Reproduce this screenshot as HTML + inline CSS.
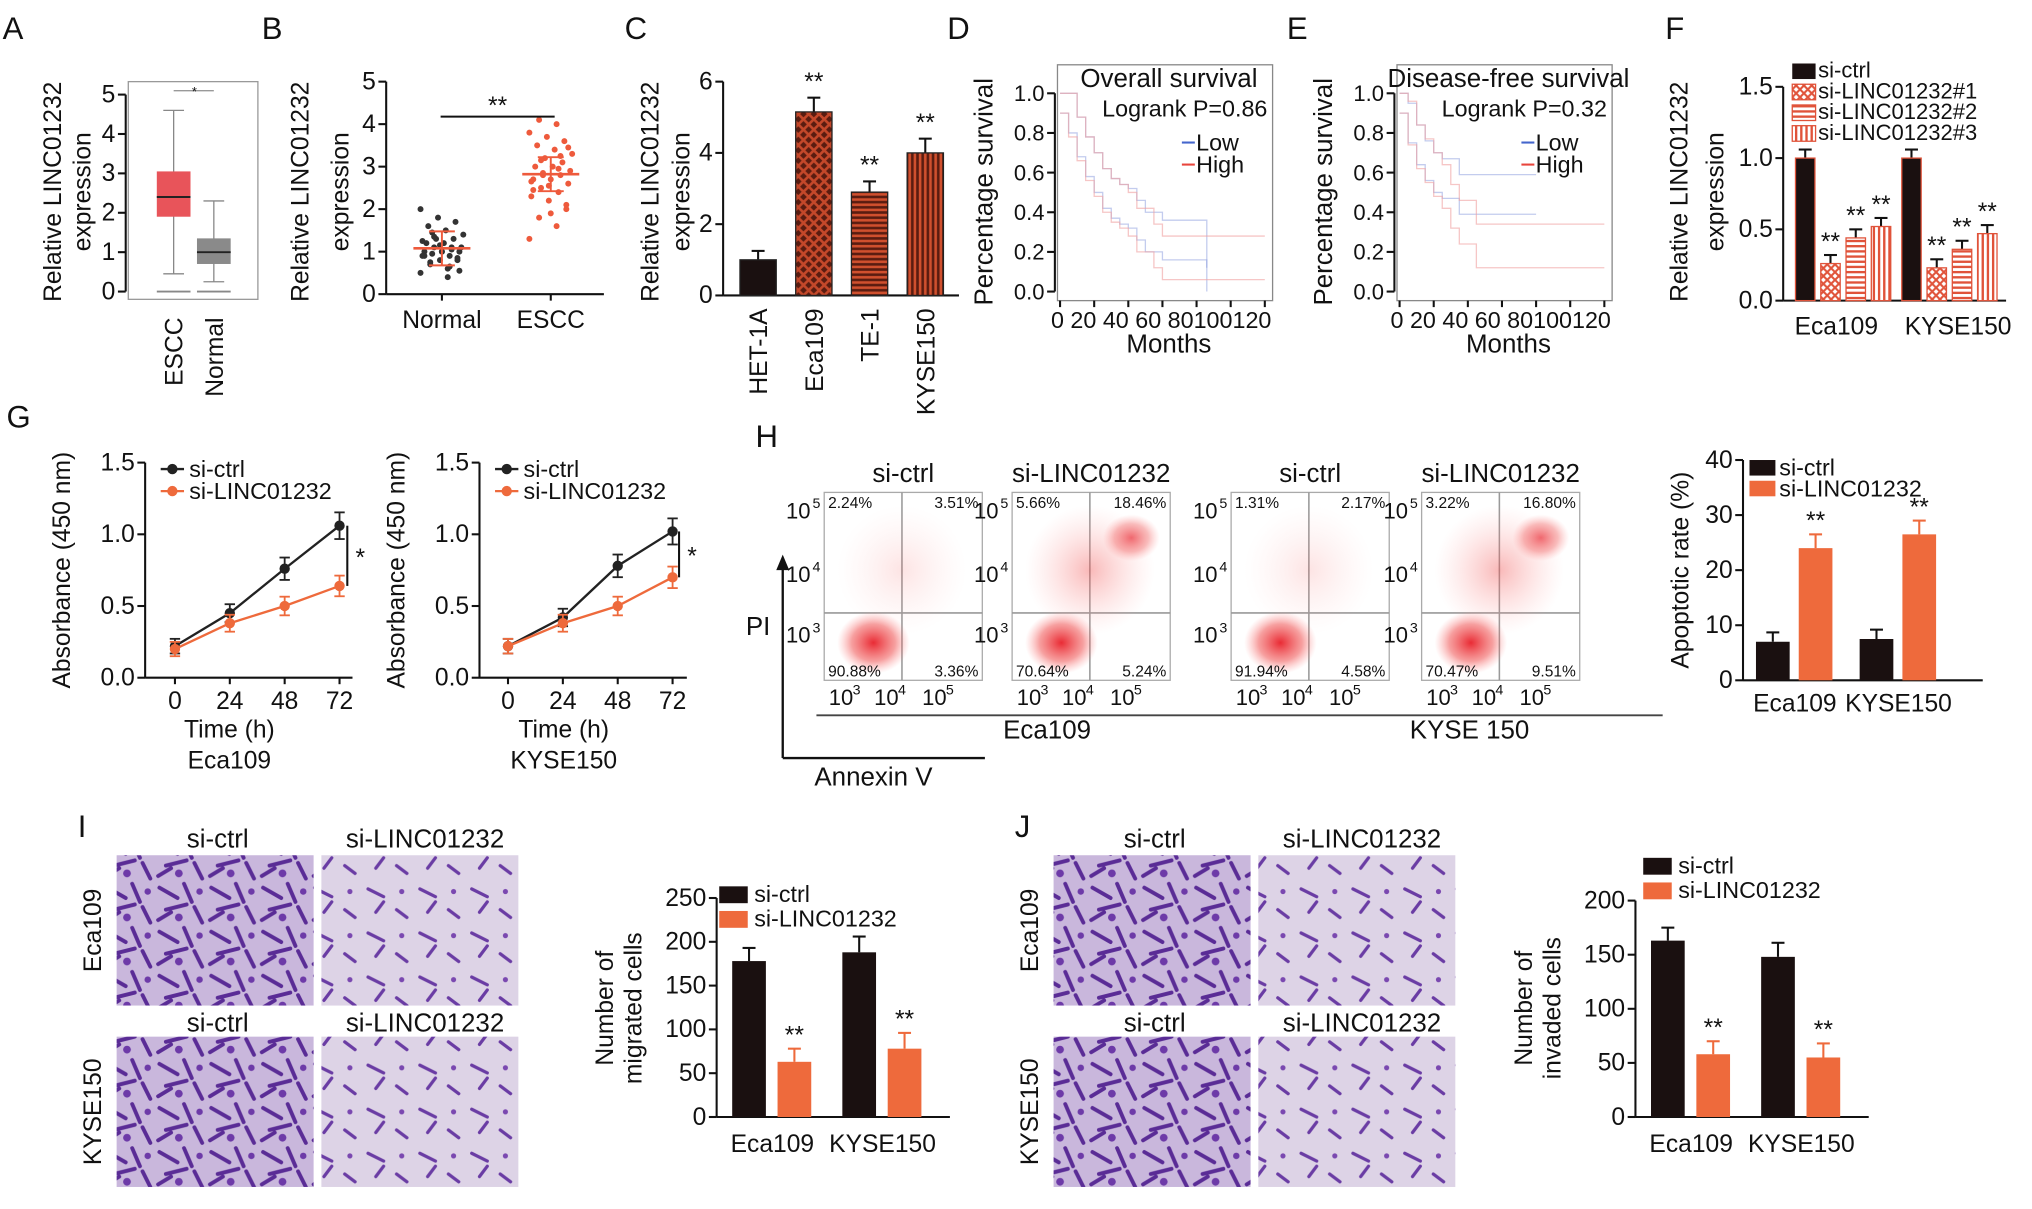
<!DOCTYPE html>
<html><head><meta charset="utf-8"><style>
html,body{margin:0;padding:0;background:#fff;width:2032px;height:1209px;overflow:hidden}
svg text{font-family:"Liberation Sans",sans-serif;fill:#111}
</style></head><body>
<svg id="fig" xmlns="http://www.w3.org/2000/svg" width="2032" height="1209" viewBox="0 0 1568 933" preserveAspectRatio="none">
<defs>
<pattern id="pCross" width="6" height="6" patternUnits="userSpaceOnUse"><rect width="6" height="6" fill="#fff"/><path d="M0 0L6 6M6 0L0 6" stroke="#e0533a" stroke-width="1.6"/></pattern>
<pattern id="pHor" width="4" height="4" patternUnits="userSpaceOnUse"><rect width="4" height="4" fill="#fff"/><path d="M0 2H4" stroke="#e0533a" stroke-width="1.8"/></pattern>
<pattern id="pVer" width="4" height="4" patternUnits="userSpaceOnUse"><rect width="4" height="4" fill="#fff"/><path d="M2 0V4" stroke="#e0533a" stroke-width="1.8"/></pattern>
<pattern id="pC" width="8" height="8" patternUnits="userSpaceOnUse"><rect width="8" height="8" fill="#5a1c10"/><path d="M0 0L8 8M8 0L0 8" stroke="#c4482a" stroke-width="2"/></pattern>
<pattern id="pCH" width="4" height="4" patternUnits="userSpaceOnUse"><rect width="4" height="4" fill="#5a1c10"/><path d="M0 2H4" stroke="#d0502e" stroke-width="2"/></pattern>
<pattern id="pCV" width="4" height="4" patternUnits="userSpaceOnUse"><rect width="4" height="4" fill="#5a1c10"/><path d="M2 0V4" stroke="#d0502e" stroke-width="2"/></pattern>
<radialGradient id="gRed"><stop offset="0" stop-color="#e8202a" stop-opacity="0.95"/><stop offset="0.6" stop-color="#ee4040" stop-opacity="0.5"/><stop offset="1" stop-color="#ff8080" stop-opacity="0"/></radialGradient>
<radialGradient id="gRedL"><stop offset="0" stop-color="#f05050" stop-opacity="0.45"/><stop offset="1" stop-color="#ffa0a0" stop-opacity="0"/></radialGradient>
<pattern id="cells" width="40" height="34" patternUnits="userSpaceOnUse"><rect width="40" height="34" fill="#c9b7dc"/><path d="M3 5l14 8M22 2l6 14M8 22l16-4M30 20l6 12M2 30l10-6" stroke="#5a2c96" stroke-width="3" stroke-linecap="round"/><circle cx="18" cy="28" r="3" fill="#6d3aa8"/><circle cx="34" cy="8" r="2.5" fill="#6d3aa8"/></pattern>
<pattern id="cellsS" width="40" height="34" patternUnits="userSpaceOnUse"><rect width="40" height="34" fill="#ddd3e6"/><path d="M4 6l12 6M26 22l8 6M10 24l6-8" stroke="#6a3ca4" stroke-width="2.5" stroke-linecap="round"/><circle cx="30" cy="8" r="2" fill="#7a48b0"/></pattern>
</defs>
</svg>
<script>
// ---------- data ----------
const aLabels=['ESCC','Normal'];
const aBoxEscc=[1.9,2.4,3.05];
const aBoxNormal=[0.7,1.0,1.35];
const aWhiskEscc=[0.45,4.6];
const aWhiskNormal=[0.25,2.3];
const bNormal=[0.5,0.6,0.7,0.8,0.8,0.9,0.9,0.95,1.0,1.0,1.0,1.05,1.1,1.1,1.2,1.2,1.3,1.3,1.4,1.5,1.6,1.7,1.8,2.0,0.4,0.75,0.85,1.15,1.25,0.65,1.45,0.55,1.0,0.9,1.1,1.35];
const bEscc=[1.3,1.6,1.8,2.0,2.2,2.3,2.4,2.5,2.6,2.7,2.7,2.8,2.8,2.9,3.0,3.0,3.1,3.2,3.3,3.4,3.5,3.6,3.7,3.8,4.0,4.1,2.1,2.55,2.65,2.95,3.15,3.45,1.9,2.45,3.25,2.85];
const cCats=['HET-1A','Eca109','TE-1','KYSE150'];
const cVals=[1.0,5.15,2.9,4.0];
const cErr=[0.25,0.4,0.3,0.4];
const cTicks=[0,2,4,6];
const kmTicks=[0,20,40,60,80,100,120];
const survTicks=[0,0.2,0.4,0.6,0.8,1.0];
const dLowM=[0,5,10,15,20,25,30,35,40,45,50,60,85,86];
const dLowS=[1,0.9,0.78,0.68,0.6,0.52,0.47,0.44,0.42,0.36,0.3,0.26,0.26,0.02];
const dHighM=[0,5,10,15,20,25,30,35,40,45,55,60,120];
const dHighS=[1,0.88,0.76,0.66,0.58,0.5,0.45,0.42,0.38,0.3,0.22,0.16,0.16];
const eLowM=[0,5,10,15,20,25,30,35,80];
const eLowS=[1,0.85,0.74,0.66,0.6,0.57,0.57,0.49,0.49];
const eHighM=[0,5,10,15,20,25,30,35,40,45,120];
const eHighS=[1,0.84,0.72,0.65,0.58,0.52,0.42,0.34,0.34,0.22,0.22];
const fGroups=['Eca109','KYSE150'];
const fSeries=['si-ctrl','si-LINC01232#1','si-LINC01232#2','si-LINC01232#3'];
const fVals=[[1.0,0.26,0.44,0.52],[1.0,0.23,0.36,0.47]];
const fTicks=[0,0.5,1.0,1.5];
const gTimes=[0,24,48,72];
const gEcaCtrl=[0.22,0.45,0.76,1.06];
const gEcaSi=[0.2,0.38,0.5,0.64];
const gKyCtrl=[0.22,0.42,0.78,1.02];
const gKySi=[0.22,0.38,0.5,0.7];
const gTicks=[0,0.5,1.0,1.5];
const hTitles=['si-ctrl','si-LINC01232','si-ctrl','si-LINC01232'];
const hQuad=[['2.24%','3.51%','90.88%','3.36%'],['5.66%','18.46%','70.64%','5.24%'],['1.31%','2.17%','91.94%','4.58%'],['3.22%','16.80%','70.47%','9.51%']];
const hCtrl=[7,7.5];
const hSi=[24,26.5];
const hTicks=[0,10,20,30,40];
const iCtrl=[178,188];
const iSi=[63,78];
const iTicks=[0,50,100,150,200,250];
const jCtrl=[163,148];
const jSi=[58,55];
const jTicks=[0,50,100,150,200];
const grp=['Eca109','KYSE150'];

// ---------- helpers ----------
const S=document.getElementById('fig');
const NS='http://www.w3.org/2000/svg';
function mk(tag,attrs,name){const e=document.createElementNS(NS,tag);for(const k in attrs)e.setAttribute(k,attrs[k]);


S.appendChild(e);return e;}
function T(x,y,s,fs,anchor,rot,name){const e=mk('text',{x:x,y:y,'font-size':fs||19,'text-anchor':anchor||'middle'},name||'label');if(rot)e.setAttribute('transform','rotate('+rot+' '+x+' '+y+')');e.textContent=s;return e;}
function L(x1,y1,x2,y2,name,c,w){return mk('line',{x1:x1,y1:y1,x2:x2,y2:y2,stroke:c||'#111','stroke-width':w||1.6},name||'line');}
function R(x,y,w,h,f,name,st){const a={x:x,y:y,width:w,height:h,fill:f};if(st){a.stroke=st;a['stroke-width']=1;}return mk('rect',a,name||'rect');}
function lin(d0,d1,r0,r1){return v=>r0+(v-d0)*(r1-r0)/(d1-d0);}
function yAxis(x,ys,ticks,fs,name,fmt){L(x,ys(ticks[0]),x,ys(ticks[ticks.length-1]),name+'-line');ticks.forEach(t=>{L(x-6,ys(t),x,ys(t),name+'-tick');T(x-8,ys(t)+6,fmt?fmt(t):String(t),fs||19,'end',0,name+'-tick-label');});}
function errBar(x,y,e,ys,name,col){const c=col||'#111';L(x,ys(y),x,ys(y+e),name+'-error',c,1.6);L(x-5,ys(y+e),x+5,ys(y+e),name+'-error-cap',c,1.6);}
function stars(x,y,s,name){T(x,y,s,19,'middle',0,name);}
function letter(x,y,s){T(x,y,s,24,'start',0,'panel-'+s.toLowerCase()+'-letter');}

// ---------- Panel A ----------
letter(2,30,'A');
{const ys=lin(0,5,225,73);R(99,63,100,168,'none','a-plot-frame','#999');
yAxis(97,ys,[0,1,2,3,4,5],19,'a-y-axis');
T(47,148,'Relative LINC01232',19,'middle',-90,'a-y-title');T(70,148,'expression',19,'middle',-90,'a-y-title-2');
[['escc',134,aBoxEscc,aWhiskEscc,'#e8545a'],['normal',165,aBoxNormal,aWhiskNormal,'#8a8a8a']].forEach(([n,cx,b,w,c],i)=>{
L(cx,ys(w[0]),cx,ys(w[1]),'a-whisker-'+n,'#888',1);L(cx-8,ys(w[0]),cx+8,ys(w[0]),'a-whisker-cap','#888',1);L(cx-8,ys(w[1]),cx+8,ys(w[1]),'a-whisker-cap','#888',1);
L(cx-13,ys(0),cx+13,ys(0),'a-zero-line-'+n,'#888',1.5);
R(cx-13,ys(b[2]),26,ys(b[0])-ys(b[2]),c,'a-box-'+n);L(cx-13,ys(b[1]),cx+13,ys(b[1]),'a-median-'+n,'#222',1.5);
T(cx+7,245,aLabels[i],19,'end',-90,'a-x-label');});
L(134,70,165,70,'a-sig-bracket','#999',1);T(150,74,'*',10,'middle',0,'a-sig');}

// ---------- Panel B ----------
letter(202,30,'B');
{const ys=lin(0,5,227,63);yAxis(298,ys,[0,1,2,3,4,5],19,'b-y-axis');L(298,227,466,227,'b-x-axis');
T(238,148,'Relative LINC01232',19,'middle',-90,'b-y-title');T(269,148,'expression',19,'middle',-90,'b-y-title-2');
[[bNormal,341,'#333','normal'],[bEscc,425,'#ee5a3c','escc']].forEach(([arr,cx,c,n])=>{
arr.forEach((v,i)=>{const off=((i*37)%23-11)*1.5;mk('circle',{cx:cx+off,cy:ys(v),r:2.3,fill:c},'b-point-'+n);});
const m=arr.reduce((a,b)=>a+b,0)/arr.length;L(cx-22,ys(m),cx+22,ys(m),'b-mean-'+n,'#ee5a3c',2);
L(cx-10,ys(m-0.4),cx+10,ys(m-0.4),'b-sd-'+n,'#ee5a3c',1.5);L(cx-10,ys(m+0.4),cx+10,ys(m+0.4),'b-sd-'+n,'#ee5a3c',1.5);L(cx,ys(m-0.4),cx,ys(m+0.4),'b-sd-'+n,'#ee5a3c',1.5);});
L(341,227,341,232,'b-x-tick');L(425,227,425,232,'b-x-tick');
T(341,253,'Normal',19,'middle',0,'b-x-label');T(425,253,'ESCC',19,'middle',0,'b-x-label');
L(340,90,428,90,'b-sig-bracket');stars(384,88,'**','b-sig');}

// ---------- Panel C ----------
letter(482,30,'C');
{const ys=lin(0,6,228,63);yAxis(558,ys,cTicks,19,'c-y-axis');L(558,228,740,228,'c-x-axis');
T(508,148,'Relative LINC01232',19,'middle',-90,'c-y-title');T(532,148,'expression',19,'middle',-90,'c-y-title-2');
const fills=['#1a1010','url(#pC)','url(#pCH)','url(#pCV)'];
cCats.forEach((c,i)=>{const x=585+i*43;errBar(x,cVals[i],cErr[i],ys,'c-bar-'+i);R(x-14,ys(cVals[i]),28,228-ys(cVals[i]),fills[i],'c-bar-'+c.toLowerCase(),'#222');
if(i>0)stars(x,ys(cVals[i]+cErr[i])-6,'**','c-sig');T(x+7,238,c,19,'end',-90,'c-x-label');});}

// ---------- KM panels ----------
function km(x0,title,p,lowM,lowS,highM,highS,pre,lt){
letter(x0-85,30,lt);
const xs=lin(0,120,x0+2,x0+160),ys=lin(0,1,225,72);
R(x0,50,166,182,'none',pre+'-frame','#888');
T(x0+86,67,title,20,'middle',0,pre+'-title');T(x0+162,90,'Logrank P='+p,18,'end',0,pre+'-pvalue');
yAxis(x0-2,ys,survTicks,17,pre+'-y-axis',t=>t.toFixed(1));
kmTicks.forEach(t=>{L(xs(t),232,xs(t),237,pre+'-x-tick');});
T(x0-5,253,'0 20 40 60 80100120',18,'start',0,pre+'-x-tick-labels');
T(x0+86,272,'Months',20,'middle',0,pre+'-x-title');T(x0-50,148,'Percentage survival',20,'middle',-90,pre+'-y-title');
function step(M,Sv,c,n,op,dy){let d='M'+xs(M[0])+' '+ys(Math.min(1,Sv[0]+dy));for(let i=1;i<M.length;i++){d+='H'+xs(M[i])+'V'+ys(Math.max(0,Math.min(1,Sv[i]+dy)));}mk('path',{d:d,fill:'none',stroke:c,'stroke-width':op?1:1.6,opacity:op||1},pre+'-'+n);}
step(lowM,lowS,'#8899dd','ci-low',0.5,0.1);step(lowM,lowS,'#8899dd','ci-low',0.5,-0.1);
step(highM,highS,'#f0a0a0','ci-high',0.6,0.12);step(highM,highS,'#f0a0a0','ci-high',0.6,-0.1);
step(lowM,lowS,'#4466cc','low-curve');step(highM,highS,'#e8453c','high-curve');
L(x0+96,110,x0+106,110,pre+'-legend-low-line','#4466cc',1.6);T(x0+107,116,'Low',18,'start',0,pre+'-legend-low');
L(x0+96,127,x0+106,127,pre+'-legend-high-line','#e8453c',1.6);T(x0+107,133,'High',18,'start',0,pre+'-legend-high');}
km(816,'Overall survival','0.86',dLowM,dLowS,dHighM,dHighS,'d','D');
km(1078,'Disease-free survival','0.32',eLowM,eLowS,eHighM,eHighS,'e','E');

// ---------- Panel F ----------
letter(1285,30,'F');
{const ys=lin(0,1.5,232,67);yAxis(1376,ys,fTicks,19,'f-y-axis',t=>t.toFixed(1));L(1376,232,1548,232,'f-x-axis');
T(1302,148,'Relative LINC01232',19,'middle',-90,'f-y-title');T(1330,148,'expression',19,'middle',-90,'f-y-title-2');
const fills=['#1a1010','url(#pCross)','url(#pHor)','url(#pVer)'];
fGroups.forEach((g,gi)=>{fVals[gi].forEach((v,si)=>{const x=1393+gi*82+si*19.5;errBar(x,v,0.06,ys,'f-bar');R(x-7.5,ys(v),15,232-ys(v),fills[si],'f-bar-'+g.toLowerCase()+'-'+si,'#e0533a');if(si)stars(x,ys(v+0.06)-4,'**','f-sig');});
T(1417+gi*94,258,g,19,'middle',0,'f-x-label');});
fSeries.forEach((s,i)=>{R(1383,49+i*16,18,12,fills[i],'f-legend-swatch',i?'#e0533a':null);T(1403,60+i*16,s,17,'start',0,'f-legend-label');});}

// ---------- Panel G ----------
letter(5,330,'G');
function lineChart(x0,cx,a,b,grpName,pre,bx){
const ys=lin(0,1.5,523,357),xs=lin(0,72,cx,cx+127);
yAxis(x0,ys,gTicks,19,pre+'-y-axis',t=>t.toFixed(1));L(x0,523,x0+160,523,pre+'-x-axis');
T(x0-58,440,'Absorbance (450 nm)',19,'middle',-90,pre+'-y-title');
gTimes.forEach(t=>{L(xs(t),523,xs(t),528,pre+'-x-tick');T(xs(t),547,String(t),19,'middle',0,pre+'-x-tick-label');});
T(x0+65,569,'Time (h)',19,'middle',0,pre+'-x-title');T(x0+65,593,grpName,19,'middle',0,pre+'-group-label');
[[a,'#222','ctrl'],[b,'#ee6a3c','si']].forEach(([arr,c,n])=>{
mk('polyline',{points:arr.map((v,i)=>xs(gTimes[i])+','+ys(v)).join(' '),fill:'none',stroke:c,'stroke-width':1.8},pre+'-line-'+n);
arr.forEach((v,i)=>{const e=0.04+v*0.05;L(xs(gTimes[i]),ys(v-e),xs(gTimes[i]),ys(v+e),pre+'-error',c,1.4);L(xs(gTimes[i])-4,ys(v+e),xs(gTimes[i])+4,ys(v+e),pre+'-error-cap',c,1.4);L(xs(gTimes[i])-4,ys(v-e),xs(gTimes[i])+4,ys(v-e),pre+'-error-cap',c,1.4);
mk('circle',{cx:xs(gTimes[i]),cy:ys(v),r:4,fill:c},pre+'-point-'+n);});});
L(x0+12,362,x0+30,362,pre+'-legend-ctrl-line','#222',1.8);mk('circle',{cx:x0+21,cy:362,r:4,fill:'#222'},pre+'-legend-ctrl-marker');T(x0+34,368,'si-ctrl',18,'start',0,pre+'-legend-ctrl');
L(x0+12,379,x0+30,379,pre+'-legend-si-line','#ee6a3c',1.8);mk('circle',{cx:x0+21,cy:379,r:4,fill:'#ee6a3c'},pre+'-legend-si-marker');T(x0+34,385,'si-LINC01232',18,'start',0,pre+'-legend-si');
L(bx,ys(a[3]),bx,ys(b[3]),pre+'-sig-bracket');T(bx+10,ys((a[3]+b[3])/2)+8,'*',19,'middle',0,pre+'-sig');}
lineChart(112,135,gEcaCtrl,gEcaSi,'Eca109','g-eca109',268);
lineChart(370,392,gKyCtrl,gKySi,'KYSE150','g-kyse150',524);

// ---------- Panel H ----------
letter(583,345,'H');
{const bx=[636,781,950,1097];
bx.forEach((x,i)=>{T(x+61,372,hTitles[i],20,'middle',0,'h-flow-title');
R(x,380,122,145,'#fff','h-flow-plot-'+i,'#aaa');
L(x+60,380,x+60,525,'h-gate-v','#999',1.2);L(x,473,x+122,473,'h-gate-h','#999',1.2);
const sev=(i%2)?1:0;
mk('ellipse',{cx:x+38,cy:496,rx:28,ry:24,fill:'url(#gRed)'},'h-cluster-live');
mk('ellipse',{cx:x+60,cy:440,rx:50,ry:50,fill:'url(#gRedL)',opacity:sev?0.9:0.35},'h-cluster-scatter');
if(sev)mk('ellipse',{cx:x+92,cy:415,rx:22,ry:18,fill:'url(#gRed)',opacity:0.7},'h-cluster-late');
const q=hQuad[i];T(x+3,392,q[0],12,'start',0,'h-quad-ul');T(x+119,392,q[1],12,'end',0,'h-quad-ur');T(x+3,522,q[2],12,'start',0,'h-quad-ll');T(x+119,522,q[3],12,'end',0,'h-quad-lr');
[[392,'5'],[441,'4'],[488,'3']].forEach(([y,e])=>{T(x-20,y+8,'10',17,'middle',0,'h-y-tick');T(x-6,y,e,11,'middle',0,'h-y-exp');});
[[x+13,'3'],[x+48,'4'],[x+85,'5']].forEach(([xx,e])=>{T(xx,544,'10',17,'middle',0,'h-x-tick');T(xx+12,536,e,11,'middle',0,'h-x-exp');});});
L(630,552,1283,552,'h-annexin-axis','#444',1.5);
L(604,585,604,435,'h-pi-axis','#111',1.8);mk('path',{d:'M599 440L604 428L609 440Z',fill:'#111'},'h-pi-arrow');
L(604,585,760,585,'h-annexin-arrow-line','#111',1.8);T(585,490,'PI',20,'middle',0,'h-pi-label');T(674,606,'Annexin V',20,'middle',0,'h-annexin-label');
T(808,570,'Eca109',20,'middle',0,'h-group-eca109');T(1134,570,'KYSE 150',20,'middle',0,'h-group-kyse150');
const ys=lin(0,40,525,355);yAxis(1345,ys,hTicks,19,'h-y-axis');L(1345,525,1530,525,'h-x-axis');
T(1303,440,'Apoptotic rate (%)',19,'middle',-90,'h-y-title');
grp.forEach((g,gi)=>{const x=1368+gi*80;errBar(x,hCtrl[gi],1.7,ys,'h-bar');R(x-13,ys(hCtrl[gi]),26,525-ys(hCtrl[gi]),'#1a1010','h-bar-ctrl-'+g);
errBar(x+33,hSi[gi],2.5,ys,'h-bar','#ee6a3c');R(x+20,ys(hSi[gi]),26,525-ys(hSi[gi]),'#ee6a3c','h-bar-si-'+g);stars(x+33,ys(hSi[gi]+2.5)-4,'**','h-sig');
T(x+17,549,g,19,'middle',0,'h-x-label');});
R(1350,355,20,12,'#1a1010','h-legend-ctrl-swatch');T(1373,367,'si-ctrl',18,'start',0,'h-legend-ctrl');
R(1350,371,20,12,'#ee6a3c','h-legend-si-swatch');T(1373,383,'si-LINC01232',18,'start',0,'h-legend-si');}

// ---------- Panels I & J ----------
function micro(x0,lt,pre){letter(x0-30,646,lt);
[[0,'si-ctrl'],[1,'si-LINC01232']].forEach(([c,t])=>{T(x0+78+c*160,654,t,20,'middle',0,pre+'-title-top');T(x0+78+c*160,796,t,20,'middle',0,pre+'-title-bottom');
R(x0+c*158,660,152,116,c?'url(#cellsS)':'url(#cells)',pre+'-image-eca109-'+c);R(x0+c*158,800,152,116,c?'url(#cellsS)':'url(#cells)',pre+'-image-kyse150-'+c);});
T(x0-12,718,'Eca109',19,'middle',-90,pre+'-row-eca109');T(x0-12,858,'KYSE150',19,'middle',-90,pre+'-row-kyse150');}
micro(90,'I','i');micro(813,'J','j');
function barPanel(x0,ctrl,si,ticks,title,pre,errs,lx,ly){
const y2=pre==='i'?lin(0,250,862,693):lin(0,200,862,695);
yAxis(x0,y2,ticks,19,pre+'-y-axis');L(x0,862,x0+180,862,pre+'-x-axis');
T(x0-80,778,'Number of',19,'middle',-90,pre+'-y-title');T(x0-58,778,title,19,'middle',-90,pre+'-y-title-2');
grp.forEach((g,gi)=>{const x=x0+25+gi*85;errBar(x,ctrl[gi],errs[gi],y2,pre+'-bar');R(x-13,y2(ctrl[gi]),26,862-y2(ctrl[gi]),'#1a1010',pre+'-bar-ctrl-'+g);
errBar(x+35,si[gi],errs[gi],y2,pre+'-bar','#ee6a3c');R(x+22,y2(si[gi]),26,862-y2(si[gi]),'#ee6a3c',pre+'-bar-si-'+g);stars(x+35,y2(si[gi]+errs[gi])-4,'**',pre+'-sig');
T(x+18,889,g,19,'middle',0,pre+'-x-label');});
R(lx,ly,22,13,'#1a1010',pre+'-legend-ctrl-swatch');T(lx+27,ly+12,'si-ctrl',18,'start',0,pre+'-legend-ctrl');
R(lx,ly+19,22,13,'#ee6a3c',pre+'-legend-si-swatch');T(lx+27,ly+31,'si-LINC01232',18,'start',0,pre+'-legend-si');}
barPanel(553,iCtrl,iSi,iTicks,'migrated cells','i',[15,18],555,684);
barPanel(1262,jCtrl,jSi,jTicks,'invaded cells','j',[12,13],1268,662);
</script>
</body></html>
